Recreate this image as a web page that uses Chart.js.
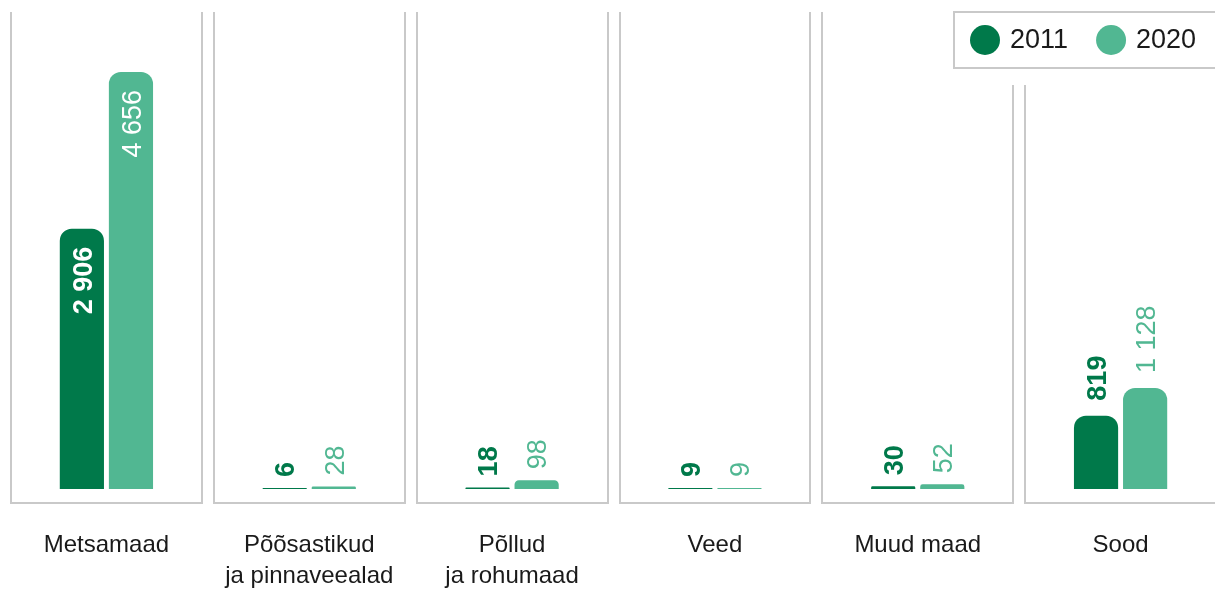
<!DOCTYPE html>
<html lang="et">
<head>
<meta charset="utf-8">
<title>Maakasutus 2011 ja 2020</title>
<script src="https://cdn.jsdelivr.net/npm/chart.js@4/dist/chart.umd.min.js"></script>
<style>
  html, body { margin: 0; padding: 0; background: #fff; overflow: hidden; }
  #wrap { position: relative; width: 1222px; height: 592px; }
</style>
</head>
<body>
<div id="wrap"><canvas id="chart"></canvas></div>
<script>
(function () {
  'use strict';

  var categories = ['Metsamaad', ['Põõsastikud', 'ja pinnaveealad'], ['Põllud', 'ja rohumaad'], 'Veed', 'Muud maad', 'Sood'];
  var years = ['2011', '2020'];
  var values2011 = [2906, 6, 18, 9, 30, 819];
  var values2020 = [4656, 28, 98, 9, 52, 1128];
  var colors = ['#00794a', '#51b792'];
  var yMax = 5326;

  var FONT = '"Liberation Sans", Arial, sans-serif';

  function fmt(n) {
    return String(n).replace(/\B(?=(\d{3})+(?!\d))/g, ' ');
  }

  // grey open-top frames behind each category
  var panels = {
    id: 'panels',
    beforeDraw: function (chart) {
      var ctx = chart.ctx;
      var x = chart.scales.x;
      var step = (chart.chartArea.right - chart.chartArea.left) / categories.length;
      ctx.save();
      ctx.strokeStyle = '#c9c9c9';
      ctx.lineWidth = 2;
      for (var i = 0; i < categories.length; i++) {
        var c = x.getPixelForValue(i);
        var l = Math.round(c - step / 2 + 6);
        var r = Math.round(c + step / 2 - 6);
        ctx.beginPath();
        ctx.moveTo(l, 12);
        ctx.lineTo(l, 503);
        ctx.lineTo(r, 503);
        ctx.lineTo(r, 12);
        ctx.stroke();
      }
      ctx.restore();
    }
  };

  var valueLabels = {
    id: 'valueLabels',
    afterDatasetsDraw: function (chart) {
      var ctx = chart.ctx;
      var size = 27;
      chart.data.datasets.forEach(function (ds, di) {
        var meta = chart.getDatasetMeta(di);
        meta.data.forEach(function (bar, i) {
          var text = fmt(ds.data[i]);
          var h = bar.base - bar.y;
          ctx.save();
          ctx.translate(bar.x, bar.y);
          ctx.rotate(-Math.PI / 2);
          ctx.font = (di === 0 ? 'bold ' : '') + size + 'px ' + FONT;
          ctx.textBaseline = 'alphabetic';
          var w = ctx.measureText(text).width;
          var off = size * 0.36;
          if (h > w + 40) {
            ctx.fillStyle = '#ffffff';
            ctx.textAlign = 'right';
            ctx.fillText(text, -18, off);
          } else {
            ctx.fillStyle = ds.backgroundColor;
            ctx.textAlign = 'left';
            ctx.fillText(text, h > 50 ? 15 : 11, off);
          }
          ctx.restore();
        });
      });
    }
  };

  var boxLegend = {
    id: 'boxLegend',
    afterDraw: function (chart) {
      var ctx = chart.ctx;
      var left = 954;
      ctx.save();
      ctx.fillStyle = '#ffffff';
      ctx.fillRect(left - 1, 0, chart.width - left + 1, 85);
      ctx.strokeStyle = '#c9c9c9';
      ctx.lineWidth = 2;
      ctx.strokeRect(left, 12, chart.width, 56);
      ctx.font = '27px ' + FONT;
      ctx.textBaseline = 'middle';
      ctx.textAlign = 'left';
      var cx = left + 31;
      chart.data.datasets.forEach(function (ds) {
        ctx.fillStyle = ds.backgroundColor;
        ctx.beginPath();
        ctx.arc(cx, 40, 15, 0, Math.PI * 2);
        ctx.fill();
        ctx.fillStyle = '#1a1a1a';
        ctx.fillText(ds.label, cx + 25, 41);
        cx = cx + 25 + ctx.measureText(ds.label).width + 43;
      });
      ctx.restore();
    }
  };

  new Chart(document.getElementById('chart'), {
    type: 'bar',
    data: {
      labels: categories,
      datasets: [
        {
          label: years[0],
          data: values2011,
          backgroundColor: colors[0],
          borderRadius: 12,
          borderSkipped: 'bottom',
          minBarLength: 1
        },
        {
          label: years[1],
          data: values2020,
          backgroundColor: colors[1],
          borderRadius: 12,
          borderSkipped: 'bottom',
          minBarLength: 1
        }
      ]
    },
    options: {
      responsive: true,
      maintainAspectRatio: false,
      animation: false,
      categoryPercentage: 0.484,
      barPercentage: 0.9,
      layout: { padding: { left: 5, right: 0, top: 12, bottom: 0 } },
      plugins: {
        legend: { display: false },
        tooltip: { enabled: false }
      },
      scales: {
        x: {
          grid: { display: false, drawTicks: false },
          border: { display: false },
          ticks: {
            color: '#1a1a1a',
            font: { family: FONT, size: 24, lineHeight: 1.3 },
            padding: 41,
            maxRotation: 0,
            autoSkip: false
          },
          afterFit: function (scale) {
            scale.height = 103;
          }
        },
        y: { display: false, min: 0, max: yMax }
      }
    },
    plugins: [panels, valueLabels, boxLegend]
  });
})();
</script>
</body>
</html>
